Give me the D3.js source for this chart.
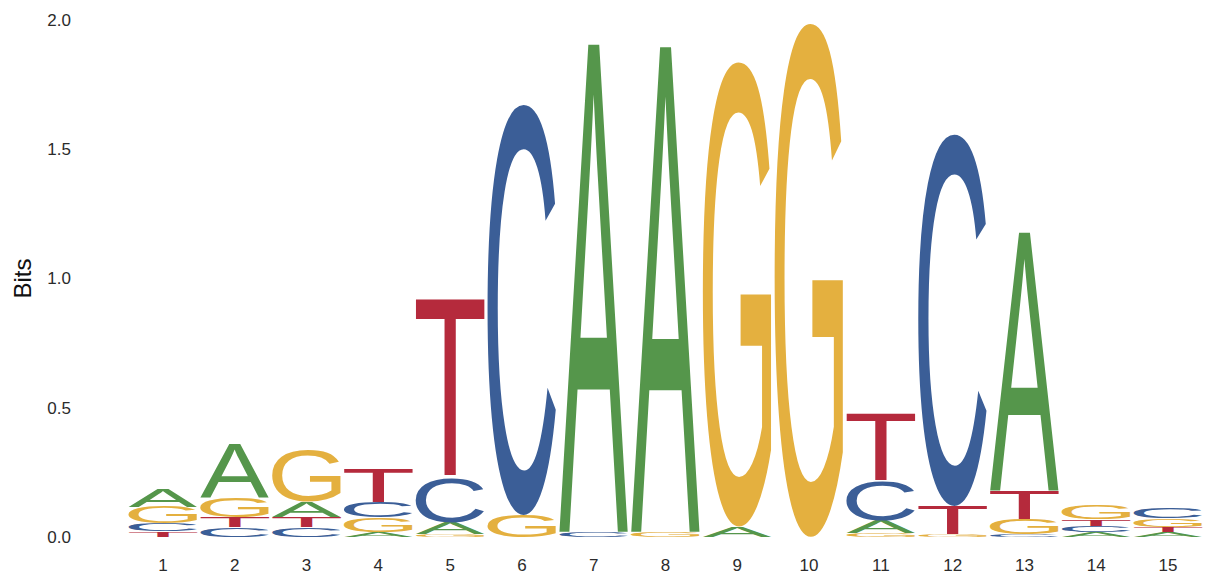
<!DOCTYPE html>
<html><head><meta charset="utf-8">
<script src="https://cdn.jsdelivr.net/npm/d3@7"></script>
<style>body{margin:0;background:#fff}</style>
</head><body>
<svg id="chart" width="1208" height="578"></svg>
<script>
// ---- data ----
const positions = [1,2,3,4,5,6,7,8,9,10,11,12,13,14,15];
const letters = ["A","C","G","T"];
const bitsA = [0.07, 0.21, 0.06, 0.02, 0.045, 0, 1.89, 1.88, 0.04, 0, 0.05, 0, 1.0, 0.02, 0.018];
const bitsC = [0.03, 0.037, 0.037, 0.06, 0.175, 1.59, 0.02, 0, 0, 0, 0.15, 1.44, 0.01, 0.024, 0.04];
const bitsG = [0.065, 0.075, 0.2, 0.055, 0.01, 0.085, 0, 0.02, 1.80, 1.99, 0.015, 0.01, 0.06, 0.053, 0.032];
const bitsT = [0.022, 0.04, 0.04, 0.13, 0.69, 0, 0, 0, 0, 0, 0.26, 0.11, 0.11, 0.026, 0.022];
const yTicks = [0, 0.5, 1.0, 1.5, 2.0];
const yLabel = "Bits";

const colors = {A:"#55964b", C:"#3b5e97", G:"#e4b03f", T:"#b52a3c"};
const bitsBy = {A:bitsA, C:bitsC, G:bitsG, T:bitsT};

const svg = d3.select("#chart");
const font = "'Liberation Sans', Arial, Helvetica, sans-serif";

const x = d3.scaleBand().domain(positions).range([127.1, 1203.9]).paddingInner(0).paddingOuter(0);
const y = d3.scaleLinear().domain([0, 2]).range([537, 20]);

// glyph ink metrics via canvas
const cv = document.createElement("canvas").getContext("2d");
cv.font = "100px " + font;
const metrics = {};
letters.forEach(L => {
  const m = cv.measureText(L);
  metrics[L] = {l: m.actualBoundingBoxLeft, r: m.actualBoundingBoxRight,
                a: m.actualBoundingBoxAscent, d: m.actualBoundingBoxDescent};
});

// build stacks (smallest at bottom)
const stacks = positions.map((p, i) => {
  const items = letters.map(L => ({L, v: bitsBy[L][i]})).filter(o => o.v > 0)
    .sort((a, b) => a.v - b.v);
  let acc = 0;
  items.forEach(o => { o.y0 = acc; acc += o.v; o.y1 = acc; o.pos = p; });
  return items;
}).flat();

const gw = x.bandwidth() * 0.96;
const g = svg.append("g");
g.selectAll("text.glyph").data(stacks).join("text")
  .attr("class", "glyph")
  .attr("font-family", font)
  .attr("font-size", 100)
  .attr("fill", d => colors[d.L])
  .attr("x", d => metrics[d.L].l)
  .attr("y", d => metrics[d.L].a)
  .attr("transform", d => {
    const m = metrics[d.L];
    const bx = x(d.pos) + (x.bandwidth() - gw) / 2;
    const by = y(d.y1);
    const bh = y(d.y0) - y(d.y1);
    return `translate(${bx},${by}) scale(${gw / (m.l + m.r)},${bh / (m.a + m.d)})`;
  })
  .text(d => d.L);

// axes
const yAxis = svg.append("g").attr("transform", "translate(71,0)")
  .call(d3.axisLeft(y).tickValues(yTicks).tickFormat(d3.format(".1f")).tickSize(0).tickPadding(0));
const xAxis = svg.append("g").attr("transform", "translate(0,551)")
  .call(d3.axisBottom(x).tickSize(0).tickPadding(8));
[yAxis, xAxis].forEach(a => {
  a.select(".domain").remove();
  a.selectAll("text").attr("font-family", font).attr("font-size", 17).attr("fill", "#2b2b2b");
});

svg.append("text")
  .attr("transform", `translate(31,${y(1)}) rotate(-90)`)
  .attr("text-anchor", "middle")
  .attr("font-family", font).attr("font-size", 24).attr("fill", "#111")
  .text(yLabel);
</script>
</body></html>
